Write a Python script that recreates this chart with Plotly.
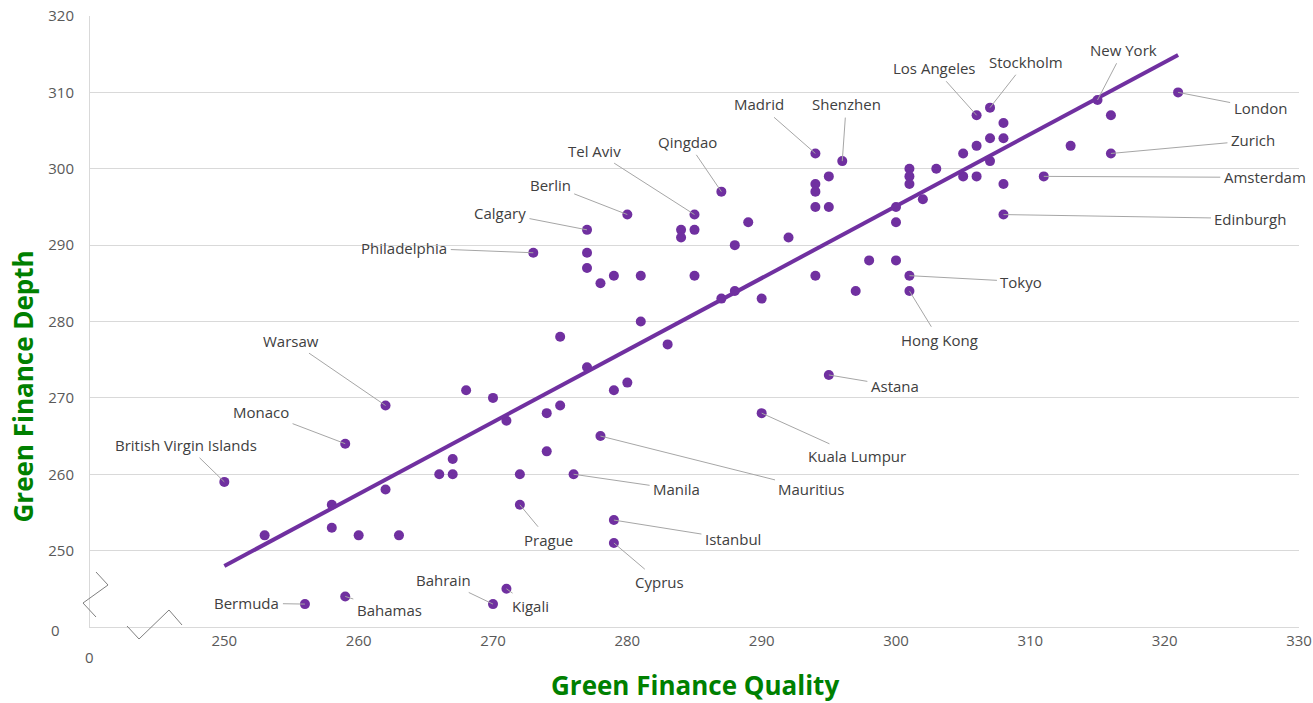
import numpy as np
import plotly.graph_objects as go

# Labeled cities: name, quality (x), depth (y), label offset (px)
label_names = ["London", "Zurich", "Amsterdam", "Edinburgh", "New York", "Stockholm",
               "Los Angeles", "Shenzhen", "Madrid", "Qingdao", "Tel Aviv", "Berlin",
               "Calgary", "Philadelphia", "Warsaw", "Monaco", "British Virgin Islands",
               "Tokyo", "Hong Kong", "Astana", "Kuala Lumpur", "Mauritius", "Manila",
               "Prague", "Istanbul", "Cyprus", "Kigali", "Bahrain", "Bermuda", "Bahamas"]
label_quality = [321, 316, 311, 308, 315, 307, 306, 296, 294, 287, 285, 280, 277, 273,
                 262, 259, 250, 301, 301, 295, 290, 278, 276, 272, 279, 279, 271, 270, 256, 259]
label_depth = [310, 302, 299, 294, 309, 308, 307, 301, 302, 297, 294, 294, 292, 289,
               269, 264, 259, 286, 284, 273, 268, 265, 260, 256, 254, 251, 245, 243, 243, 244]
label_dx = [82, 142, 221, 247, 26, 36, -42, 4, -56, -34, -100, -77, -87, -129,
            -95, -84, -38, 112, 30, 66, 95, 211, 103, 29, 119, 46, 24, -50, -58, 44]
label_dy = [16, -13, 1, 4, -50, -46, -47, -57, -49, -50, -64, -30, -17, -5,
            -65, -32, -37, 6, 49, 11, 43, 53, 15, 35, 19, 39, 17, -24, -1, 14]

# Other (unlabeled) cities
other_quality = [295, 294, 294, 294, 295, 284, 285, 284, 289, 288, 292, 277, 277, 278, 279,
                 281, 285, 294, 298, 300, 297, 288, 287, 290, 300, 300,
                 308, 307, 308, 306, 305, 307, 301, 301, 301, 303, 305, 306, 308, 302, 313, 316,
                 268, 270, 271, 267, 266, 267, 272, 262, 258, 258, 253, 260, 263,
                 281, 275, 283, 277, 279, 280, 274, 275, 274]
other_depth = [299, 298, 297, 295, 295, 292, 292, 291, 293, 290, 291, 289, 287, 285, 286,
               286, 286, 286, 288, 288, 284, 284, 283, 283, 295, 293,
               306, 304, 304, 303, 302, 301, 300, 299, 298, 300, 299, 299, 298, 296, 303, 307,
               271, 270, 267, 262, 260, 260, 260, 258, 256, 253, 252, 252, 252,
               280, 278, 277, 274, 271, 272, 268, 269, 263]

x_ticks = [250, 260, 270, 280, 290, 300, 310, 320, 330]
y_ticks = [250, 260, 270, 280, 290, 300, 310, 320]

PURPLE = "#7030A0"
GREEN = "#008000"
TICK = "#595959"
LABEL = "#404040"
FONT = "Open Sans"

all_x = np.array(label_quality + other_quality, dtype=float)
all_y = np.array(label_depth + other_depth, dtype=float)
slope, intercept = np.polyfit(all_x, all_y, 1)
tx = np.array([all_x.min(), all_x.max()])
ty = slope * tx + intercept

fig = go.Figure()
fig.add_trace(go.Scatter(x=all_x, y=all_y, mode="markers",
                         marker=dict(color=PURPLE, size=10), hoverinfo="x+y", showlegend=False))
fig.add_trace(go.Scatter(x=tx, y=ty, mode="lines",
                         line=dict(color=PURPLE, width=4), hoverinfo="skip", showlegend=False))

annotations = []
for n, x, y, dx, dy in zip(label_names, label_quality, label_depth, label_dx, label_dy):
    annotations.append(dict(x=x, y=y, xref="x", yref="y", text=n, showarrow=True,
                            ax=dx, ay=dy, arrowhead=0, arrowwidth=1, arrowcolor="#A6A6A6",
                            standoff=0, startstandoff=2,
                            font=dict(family=FONT, size=15, color=LABEL)))
# broken-axis zero labels
annotations.append(dict(x=0, y=0, xref="paper", yref="paper", text="0", showarrow=False,
                        xanchor="center", yanchor="middle", xshift=-1, yshift=-30,
                        font=dict(family=FONT, size=15, color=TICK)))
annotations.append(dict(x=0, y=0, xref="paper", yref="paper", text="0", showarrow=False,
                        xanchor="center", yanchor="middle", xshift=-35, yshift=-3,
                        font=dict(family=FONT, size=15, color=TICK)))
# axis titles
annotations.append(dict(x=0.5, y=0, xref="paper", yref="paper", text="<b>Green Finance Quality</b>",
                        showarrow=False, xanchor="center", yanchor="middle", xshift=0, yshift=-58,
                        borderpad=0,
                        font=dict(family=FONT, size=26, color=GREEN)))
annotations.append(dict(x=0, y=0.5, xref="paper", yref="paper", text="<b>Green Finance Depth</b>",
                        showarrow=False, xanchor="center", yanchor="middle", xshift=-68, yshift=-65,
                        borderpad=0,
                        textangle=-90, font=dict(family=FONT, size=26, color=GREEN)))

shapes = [
    dict(type="path", xref="paper", yref="paper", xsizemode="pixel", ysizemode="pixel",
         xanchor=0, yanchor=0, path="M 6 55 L 18 42 L -7 24 L 6 10",
         line=dict(color="#7F7F7F", width=1)),
    dict(type="path", xref="paper", yref="paper", xsizemode="pixel", ysizemode="pixel",
         xanchor=0, yanchor=0, path="M 37 1 L 49 -12 L 79 17 L 92 2",
         line=dict(color="#7F7F7F", width=1)),
]

fig.update_layout(
    width=1313, height=703,
    margin=dict(l=90, r=14, t=16, b=76),
    paper_bgcolor="white", plot_bgcolor="white",
    annotations=annotations, shapes=shapes,
    xaxis=dict(range=[240, 330], tickvals=x_ticks, ticktext=[str(v) for v in x_ticks],
               automargin=False,
               showgrid=False, zeroline=False, showline=True, linecolor="#D9D9D9", linewidth=1,
               ticks="", ticklabelstandoff=0, tickfont=dict(family=FONT, size=15, color=TICK)),
    yaxis=dict(range=[240, 320], tickvals=y_ticks, ticktext=[str(v) for v in y_ticks],
               automargin=False,
               showgrid=True, gridcolor="#D9D9D9", gridwidth=1, zeroline=False,
               showline=True, linecolor="#D9D9D9", linewidth=1,
               ticks="", ticklabelstandoff=12, tickfont=dict(family=FONT, size=15, color=TICK)),
)

fig.write_html("out.html", config={"displayModeBar": False},
               post_script="document.body.style.margin='0';")
